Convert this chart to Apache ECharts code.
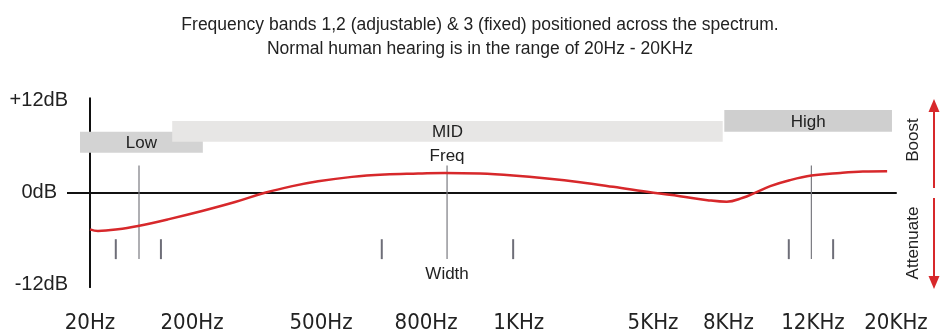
<!DOCTYPE html>
<html>
<head>
<meta charset="utf-8">
<script src="https://cdn.jsdelivr.net/npm/echarts@6/dist/echarts.min.js"></script>
<style>
  html, body { margin: 0; padding: 0; background: #fff; }
  #chart { width: 940px; height: 334px; }
</style>
</head>
<body>
<div id="chart"></div>
<script>
// Frequency tick labels and their positions along the spectrum (0 = 20Hz, 100 = 20KHz)
const freqTicks = ['20Hz', '200Hz', '500Hz', '800Hz', '1KHz', '5KHz', '8KHz', '12KHz', '20KHz'];
const tickPos = [0, 12.66, 28.66, 41.7, 53.2, 69.85, 79.2, 89.7, 100];

// Gain levels shown on the left axis (dB)
const gainTicks = [12, 0, -12];

// Resulting EQ response curve: spectrum position and gain in dB
const curveX = [0, 0.99, 3.47, 5.96, 9.68, 13.9, 18.0, 21.7, 25.1, 28.3, 32.5, 36.6, 40.7, 44.0, 48.4,
                52.5, 56.7, 60.8, 64.9, 69.9, 73.2, 76.6, 79.0, 81.0, 82.5, 84.4, 86.8, 89.5, 93.1, 95.9, 98.9];
const curveDb = [-4.77, -4.98, -4.77, -4.33, -3.47, -2.38, -1.21, 0, 0.87, 1.51, 2.08, 2.38, 2.51, 2.6, 2.51,
                 2.25, 1.86, 1.38, 0.78, 0, -0.44, -0.96, -1.17, -0.65, 0, 0.87, 1.64, 2.25, 2.6, 2.77, 2.8];

// Frequency bands: name, span along the spectrum, and the dB range of the band bar
const bandNames = ['Low', 'MID', 'High'];
const bandStart = [-1.24, 10.2, 78.7];
const bandEnd = [14.0, 78.5, 99.5];
const bandTop = [7.96, 9.39, 10.8];
const bandBottom = [5.23, 6.66, 7.96];

// Centre frequency and width edges of each band
const markerFreq = [6.08, 44.3, 89.5];
const widthLow = [3.2, 36.2, 86.7];
const widthHigh = [8.8, 52.5, 92.2];
const markerNames = ['Freq', 'Width'];

const FONT = "'Liberation Sans', Arial, sans-serif";
const NARROW = "'Liberation Sans Narrow', 'Arial Narrow', 'DejaVu Sans Condensed', sans-serif";
const RED = '#d7282b';

const chart = echarts.init(document.getElementById('chart'), null, { renderer: 'canvas' });

const bandColors = ['#d3d3d3', '#e7e6e5', '#cfcfcf'];

const option = {
  animation: false,
  backgroundColor: '#fff',
  title: {
    text: 'Frequency bands 1,2 (adjustable) & 3 (fixed) positioned across the spectrum.\nNormal human hearing is in the range of 20Hz - 20KHz',
    left: 475,
    top: 8,
    textAlign: 'center',
    textStyle: { fontFamily: FONT, fontSize: 17.5, fontWeight: 'normal', color: '#222', lineHeight: 24 }
  },
  grid: { left: 90, right: 44, top: 98.6, bottom: 46, containLabel: false },
  xAxis: [
    {
      type: 'value', min: 0, max: 100,
      axisLine: { show: false },
      axisTick: { show: false },
      splitLine: { show: false },
      axisLabel: {
        customValues: tickPos,
        margin: 25,
        fontFamily: NARROW,
        fontSize: 22,
        color: '#222',
        formatter: v => freqTicks[tickPos.indexOf(v)] || ''
      }
    },
    {
      // zero-gain reference line
      type: 'value', min: 0, max: 100, position: 'bottom',
      axisLine: { show: true, onZero: true, onZeroAxisIndex: 0, lineStyle: { color: '#111', width: 2 } },
      axisTick: { show: false }, axisLabel: { show: false }, splitLine: { show: false }
    }
  ],
  yAxis: [
    {
      type: 'value', min: -12.3, max: 12.3, position: 'left',
      axisLine: { show: true, lineStyle: { color: '#111', width: 2 } },
      axisTick: { show: true, customValues: [0], length: 23, lineStyle: { color: '#111', width: 2 } },
      splitLine: { show: false },
      axisLabel: {
        customValues: gainTicks,
        margin: 22,
        fontFamily: FONT, fontSize: 20, color: '#222',
        formatter: v => v > 0 ? '+' + v + 'dB' : (v === 0 ? '{z|0dB}' : v + 'dB'),
        rich: { z: { fontFamily: FONT, fontSize: 20, color: '#222', padding: [0, 11, 0, 0] } }
      }
    },
    {
      type: 'value', min: -12.3, max: 12.3, position: 'right',
      axisLine: { show: true, lineStyle: { color: '#111', width: 2 } },
      axisTick: { show: true, customValues: [0], length: 44, lineStyle: { color: '#111', width: 2 } },
      splitLine: { show: false },
      axisLabel: { show: false }
    }
  ],
  series: [
    {
      // band bars
      type: 'custom',
      clip: false,
      silent: true,
      data: bandNames.map((n, i) => [bandStart[i], bandEnd[i], bandTop[i], bandBottom[i], i]),
      renderItem: (params, api) => {
        const p0 = api.coord([api.value(0), api.value(2)]);
        const p1 = api.coord([api.value(1), api.value(3)]);
        const i = api.value(4);
        return {
          type: 'group',
          children: [
            { type: 'rect', shape: { x: p0[0], y: p0[1], width: p1[0] - p0[0], height: p1[1] - p0[1] },
              style: { fill: bandColors[i] } },
            { type: 'text', x: (p0[0] + p1[0]) / 2, y: (p0[1] + p1[1]) / 2 + 1,
              style: { text: bandNames[i], fontFamily: FONT, fontSize: 17, fill: '#222', align: 'center', verticalAlign: 'middle' } }
          ]
        };
      }
    },
    {
      // centre frequency and width markers
      type: 'custom',
      clip: false,
      silent: true,
      data: markerFreq.map((f, i) => [f, widthLow[i], widthHigh[i]]),
      renderItem: (params, api) => {
        const fTop = api.coord([api.value(0), 3.55]);
        const fBot = api.coord([api.value(0), -8.66]);
        const children = [
          { type: 'line', shape: { x1: fTop[0], y1: fTop[1], x2: fBot[0], y2: fBot[1] },
            style: { stroke: '#7a7a80', lineWidth: 1.2 } }
        ];
        [api.value(1), api.value(2)].forEach(w => {
          const a = api.coord([w, -6.06]);
          const b = api.coord([w, -8.66]);
          children.push({ type: 'line', shape: { x1: a[0], y1: a[1], x2: b[0], y2: b[1] },
            style: { stroke: '#6e6e78', lineWidth: 2 } });
        });
        if (params.dataIndex === 1) {
          children.push({ type: 'text', x: fTop[0], y: fTop[1] - 9,
            style: { text: markerNames[0], fontFamily: FONT, fontSize: 17, fill: '#222', align: 'center', verticalAlign: 'middle' } });
          children.push({ type: 'text', x: fBot[0], y: fBot[1] + 15,
            style: { text: markerNames[1], fontFamily: FONT, fontSize: 17, fill: '#222', align: 'center', verticalAlign: 'middle' } });
        }
        return { type: 'group', children };
      }
    },
    {
      // response curve
      type: 'line',
      data: curveX.map((x, i) => [x, curveDb[i]]),
      smooth: 0.4,
      symbol: 'none',
      lineStyle: { color: RED, width: 2.5 },
      z: 5
    }
  ],
  graphic: [
    { type: 'text', x: 913, y: 140, rotation: Math.PI / 2,
      style: { text: 'Boost', fontFamily: FONT, fontSize: 17, fill: '#222', align: 'center', verticalAlign: 'middle' } },
    { type: 'text', x: 913, y: 243, rotation: Math.PI / 2,
      style: { text: 'Attenuate', fontFamily: FONT, fontSize: 17, fill: '#222', align: 'center', verticalAlign: 'middle' } },
    // Boost / Attenuate arrows
    { type: 'line', shape: { x1: 934, y1: 188, x2: 934, y2: 108 }, style: { stroke: RED, lineWidth: 2 } },
    { type: 'polygon', shape: { points: [[934, 99], [928.5, 112], [939.5, 112]] }, style: { fill: RED } },
    { type: 'line', shape: { x1: 934, y1: 198, x2: 934, y2: 280 }, style: { stroke: RED, lineWidth: 2 } },
    { type: 'polygon', shape: { points: [[934, 289], [928.5, 276], [939.5, 276]] }, style: { fill: RED } }
  ]
};

chart.setOption(option);
</script>
</body>
</html>
